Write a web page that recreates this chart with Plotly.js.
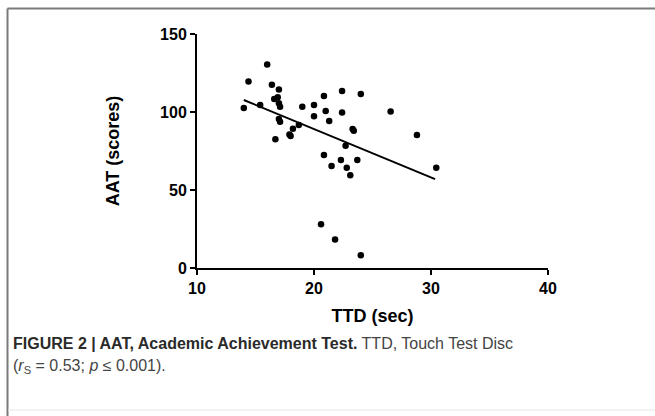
<!DOCTYPE html>
<html>
<head>
<meta charset="utf-8">
<script src="https://cdn.plot.ly/plotly-3.0.1.min.js"></script>
<style>
html,body{margin:0;padding:0;background:#fff;}
#chart{width:655px;height:416px;}
</style>
</head>
<body>
<div id="chart"></div>
<script>
// TTD (sec) values
const ttd = [14.0, 14.4, 15.4, 16.0, 16.4, 17.0, 16.6, 16.9, 17.0, 17.1,
             17.0, 17.1, 16.7, 17.9, 18.0, 18.2, 18.7, 19.0, 20.0, 20.0,
             20.85, 21.0, 21.3, 22.4, 22.4, 24.0, 23.3, 23.4, 22.7, 26.55,
             28.8, 20.85, 21.5, 22.3, 22.8, 23.1, 23.7, 30.45, 20.6, 21.8, 24.0];
// AAT (scores) values
const aat = [102.5, 119.5, 104.5, 130.5, 117.5, 114.5, 108.3, 109.4, 105.6, 103.4,
             95.5, 93.8, 82.5, 85.5, 84.6, 89.3, 91.7, 103.4, 104.5, 97.2,
             110.3, 100.6, 94.2, 113.5, 99.6, 111.5, 89.1, 88.0, 78.4, 100.4,
             85.3, 72.4, 65.4, 69.2, 64.3, 59.4, 69.2, 64.3, 28.0, 18.2, 8.2];
// regression line endpoints
const fitX = [14.0, 30.35];
const fitY = [107.7, 57.0];
// axis ticks
const xTicks = [10, 20, 30, 40];
const yTicks = [0, 50, 100, 150];

const L = 197, R = 548, T = 34, B = 268;
const W = 655, H = 416;
const px = v => (v - L) / (R - L);
const py = v => (B - v) / (B - T);

const font = "'Liberation Sans', Arial, Helvetica, sans-serif";

const traces = [
  {x: ttd, y: aat, type: 'scatter', mode: 'markers',
   marker: {color: '#000', size: 6.5}, hoverinfo: 'x+y', showlegend: false, cliponaxis: false},
  {x: fitX, y: fitY, type: 'scatter', mode: 'lines',
   line: {color: '#000', width: 2}, hoverinfo: 'skip', showlegend: false}
];

const axisCommon = {
  showgrid: false, zeroline: false, showline: true, linecolor: '#000', linewidth: 2,
  ticks: 'outside', ticklen: 5, tickwidth: 2, tickcolor: '#000',
  tickfont: {family: font, size: 16, color: '#000', weight: 'bold'},
  fixedrange: true
};

const layout = {
  width: W, height: H,
  margin: {l: L, r: W - R, t: T, b: H - B, pad: 0},
  paper_bgcolor: '#fff', plot_bgcolor: '#fff',
  font: {family: font},
  xaxis: Object.assign({}, axisCommon, {
    range: [10, 40], tickvals: xTicks, ticktext: xTicks.map(String),
    title: {text: 'TTD (sec)', standoff: 13, font: {family: font, size: 18, color: '#000', weight: 'bold'}}
  }),
  yaxis: Object.assign({}, axisCommon, {
    range: [0, 150], tickvals: yTicks, ticktext: yTicks.map(String),
    title: {text: 'AAT (scores)', standoff: 36, font: {family: font, size: 18, color: '#000', weight: 'bold'}}
  }),
  shapes: [
    {type: 'line', xref: 'paper', yref: 'paper', x0: px(7.5), x1: px(655), y0: py(8.5), y1: py(8.5),
     line: {color: '#7a7a7a', width: 2}},
    {type: 'line', xref: 'paper', yref: 'paper', x0: px(7.5), x1: px(7.5), y0: py(8.5), y1: py(416),
     line: {color: '#7a7a7a', width: 2}},
    {type: 'line', xref: 'paper', yref: 'paper', x0: px(8), x1: px(655), y0: py(410), y1: py(410),
     line: {color: '#e6e6e6', width: 1}}
  ],
  annotations: [
    {xref: 'paper', yref: 'paper', x: px(11), y: py(343), xanchor: 'left', yanchor: 'middle',
     showarrow: false, align: 'left',
     text: '<b>FIGURE 2 | AAT, Academic Achievement Test.</b> <span style="color:#444">TTD, Touch Test Disc</span>',
     font: {family: font, size: 16, color: '#2a2a2a'}},
    {xref: 'paper', yref: 'paper', x: px(11), y: py(366), xanchor: 'left', yanchor: 'middle',
     showarrow: false, align: 'left',
     text: '(<i>r</i><sub>S</sub> = 0.53; <i>p</i> ≤ 0.001).',
     font: {family: font, size: 16, color: '#444'}}
  ]
};

Plotly.newPlot('chart', traces, layout, {displayModeBar: false, staticPlot: true});
</script>
</body>
</html>
